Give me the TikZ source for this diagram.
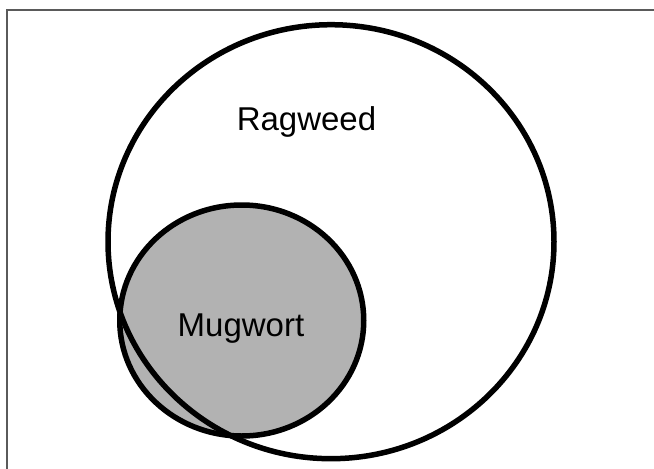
\documentclass[tikz,border=0pt]{standalone}
\usepackage{fontspec}
\setmainfont{Liberation Sans}
\begin{document}
\begin{tikzpicture}[x=1pt,y=-1pt,
  ring/.style={draw=black,line width=5.5pt},
  lbl/.style={font=\fontsize{33}{38}\selectfont,anchor=base,inner sep=0pt}]
\useasboundingbox (0,0) rectangle (654,469);
\fill[white] (0,0) rectangle (654,469);
\draw[draw={rgb,255:red,90;green,90;blue,90},line width=2pt] (7,475) -- (7,9.5) -- (660,9.5);
\draw[ring,fill={rgb,255:red,178;green,178;blue,178}] (241.75,320.5) ellipse[x radius=122,y radius=115.5];
\draw[ring] (331,241.7) ellipse[x radius=223,y radius=217];
\node[lbl] (rag) at (306.5,130) {Ragweed};
\node[lbl] (mug) at (241,336) {Mugwort};
\end{tikzpicture}
\end{document}
